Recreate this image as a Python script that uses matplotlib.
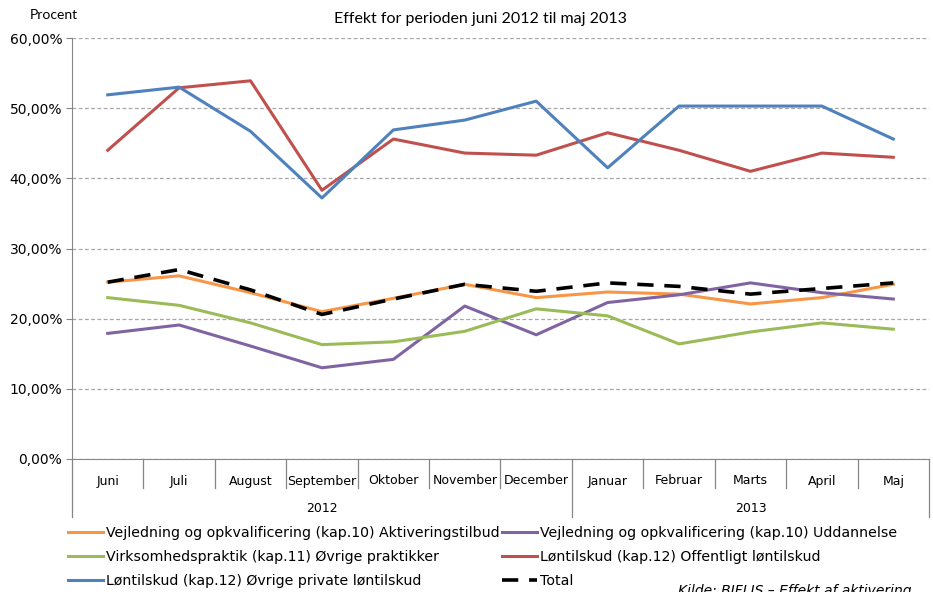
import matplotlib
matplotlib.use("Agg")
import matplotlib.pyplot as plt
import numpy as np

months = ["Juni", "Juli", "August", "September", "Oktober", "November",
          "December", "Januar", "Februar", "Marts", "April", "Maj"]
years = ["2012", "2013"]

aktivering = [25.2, 26.1, 23.7, 21.0, 22.9, 24.9, 23.0, 23.8, 23.5, 22.1, 23.0, 24.9]
uddannelse = [17.9, 19.1, 16.1, 13.0, 14.2, 21.8, 17.7, 22.3, 23.4, 25.1, 23.7, 22.8]
praktik = [23.0, 21.9, 19.4, 16.3, 16.7, 18.2, 21.4, 20.4, 16.4, 18.1, 19.4, 18.5]
offentligt = [44.0, 52.9, 53.9, 38.3, 45.6, 43.6, 43.3, 46.5, 44.0, 41.0, 43.6, 43.0]
private = [51.9, 53.0, 46.7, 37.2, 46.9, 48.3, 51.0, 41.5, 50.3, 50.3, 50.3, 45.6]
total = [25.2, 27.0, 24.1, 20.6, 22.8, 24.9, 23.9, 25.1, 24.6, 23.5, 24.3, 25.1]

labels = [
    "Vejledning og opkvalificering (kap.10) Aktiveringstilbud",
    "Vejledning og opkvalificering (kap.10) Uddannelse",
    "Virksomhedspraktik (kap.11) Øvrige praktikker",
    "Løntilskud (kap.12) Offentligt løntilskud",
    "Løntilskud (kap.12) Øvrige private løntilskud",
    "Total",
]

fig = plt.figure(figsize=(9.33, 5.92), dpi=100)
ax = fig.add_axes([72 / 933, 1 - 459 / 592, (929 - 72) / 933, (459 - 38) / 592])

x = np.arange(len(months))
lw = 2.2
l1, = ax.plot(x, aktivering, color="#F79646", lw=lw, label=labels[0])
l2, = ax.plot(x, uddannelse, color="#8064A2", lw=lw, label=labels[1])
l3, = ax.plot(x, praktik, color="#9BBB59", lw=lw, label=labels[2])
l4, = ax.plot(x, offentligt, color="#C0504D", lw=lw, label=labels[3])
l5, = ax.plot(x, private, color="#4F81BD", lw=lw, label=labels[4])
l6, = ax.plot(x, total, color="black", lw=2.6, dashes=(4.5, 3), label=labels[5])

ax.set_xlim(-0.5, len(months) - 0.5)
ax.set_ylim(0, 60)
ax.set_yticks(np.arange(0, 61, 10))
ax.set_yticklabels([f"{v},00%" for v in range(0, 61, 10)], fontsize=10)
ax.yaxis.grid(True, linestyle=(0, (3, 2)), color="#A6A6A6", lw=0.9)
ax.set_axisbelow(True)
ax.tick_params(axis="y", length=4, color="#868686", pad=3)
ax.set_xticks([])

for s in ["top", "right"]:
    ax.spines[s].set_visible(False)
for s in ["left", "bottom"]:
    ax.spines[s].set_color("#868686")

# category axis: months and years with separators
tr = ax.get_xaxis_transform()
h = 459 - 38
for i, m in enumerate(months):
    ax.text(i, -22 / h, m, transform=tr, ha="center", va="center", fontsize=9)
for b in np.arange(-0.5, len(months), 1.0):
    long_sep = b in (-0.5, 6.5, len(months) - 0.5)
    y1 = -58 / h if long_sep else -29 / h
    ax.plot([b, b], [0, y1], transform=tr, color="#868686", lw=0.9, clip_on=False)
ax.text(3, -50 / h, years[0], transform=tr, ha="center", va="center", fontsize=9)
ax.text(9, -50 / h, years[1], transform=tr, ha="center", va="center", fontsize=9)

fig.text(30 / 933, 1 - 15 / 592, "Procent", fontsize=10, family="Lato", va="center")
fig.text(480 / 933, 1 - 19 / 592, "Effekt for perioden juni 2012 til maj 2013",
         fontsize=11.5, family="Lato", ha="center", va="center")

leg = fig.legend([l1, l3, l5, l2, l4, l6],
                 [labels[0], labels[2], labels[4], labels[1], labels[3], labels[5]],
                 ncol=2, loc="upper left", bbox_to_anchor=(68 / 933, 1 - 526 / 592),
                 frameon=False, fontsize=10.2, handlelength=2.5, handletextpad=0.15,
                 labelspacing=0.72, columnspacing=0.2, borderpad=0, borderaxespad=0)

fig.text(678 / 933, 1 - 584 / 592, "Kilde: BIFLIS – Effekt af aktivering",
         fontsize=10, style="italic", va="top")

fig.savefig("out.png", dpi=100)
